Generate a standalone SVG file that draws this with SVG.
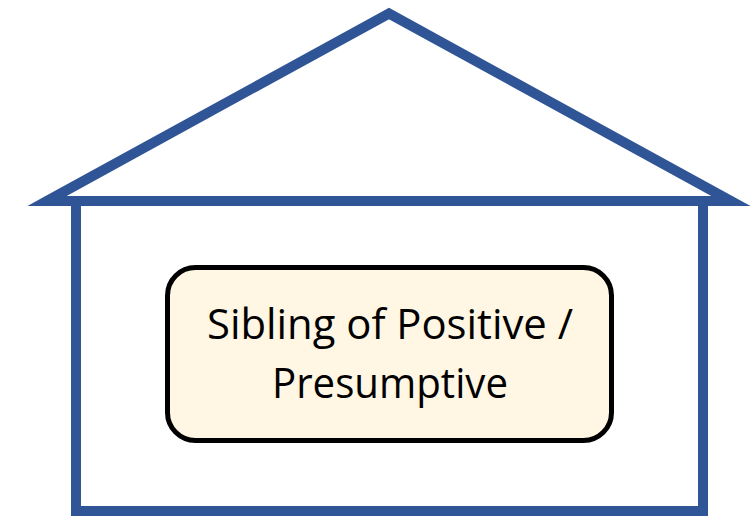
<svg xmlns="http://www.w3.org/2000/svg" width="751" height="518" viewBox="0 0 751 518">
<style>
.house{fill:none;stroke:#2F5597;stroke-width:10;stroke-miterlimit:10}
.box{fill:#FFF6E4;stroke:#000;stroke-width:5}
.lbl{font-family:"Open Sans","Liberation Sans",sans-serif;font-size:42px;fill:#000;text-anchor:middle}
</style>
<rect width="751" height="518" fill="#fff"/>
<g id="house">
<rect class="house" x="76" y="201" width="627" height="310"/>
<polygon class="house" points="47,201 389,13.5 731,201"/>
</g>
<g id="connectors"></g>
<g id="node-sibling">
<rect class="box" x="167.5" y="267.5" width="444" height="173" rx="28" ry="28"/>
<text class="lbl" x="390" y="339" textLength="366" lengthAdjust="spacingAndGlyphs">Sibling of Positive /</text>
<text class="lbl" x="390" y="398" textLength="236" lengthAdjust="spacingAndGlyphs">Presumptive</text>
</g>
</svg>
